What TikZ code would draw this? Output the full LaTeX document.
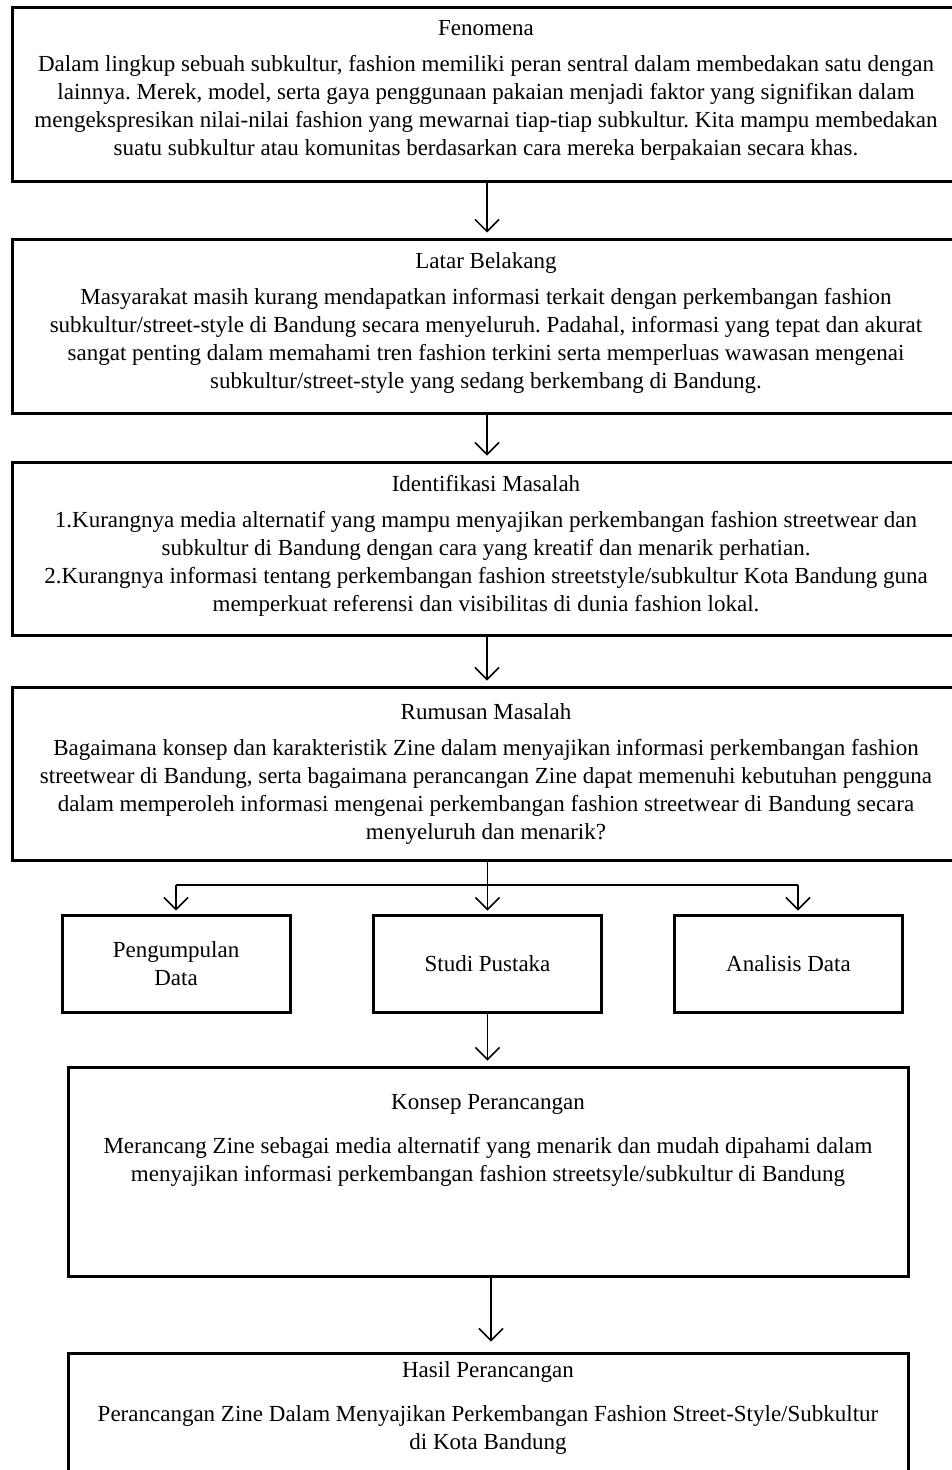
\documentclass[tikz,border=0pt]{standalone}
\usepackage{fontspec}
\setmainfont{Liberation Serif}
\usetikzlibrary{positioning, arrows.meta}
\frenchspacing

\tikzset{
  kotak/.style={draw, line width=3pt, minimum width=948pt, minimum height=174pt, inner sep=0pt},
  kotakbawah/.style={draw, line width=3pt, minimum width=840pt, inner sep=0pt},
  kecil/.style={draw, line width=3pt, minimum width=228pt, minimum height=97pt, align=center, inner sep=0pt},
  isi/.style={align=center, inner sep=0pt},
  garis/.style={line width=1.5pt},
  panah/.style={garis, -{Straight Barb[length=12pt, width=24pt, line width=1.5pt]}, shorten >=5pt}
}

\begin{document}
\begin{tikzpicture}[x=1pt, y=-1pt, font=\fontsize{23}{28}\selectfont]
    \useasboundingbox (0,0) rectangle (951,1470);
    % kotak utama
    \node[kotak] at (486,94)
      (fen) {};
    \node[isi, below=15pt of fen.north]
      (fenIsi) {Fenomena\\[8pt]
      Dalam lingkup sebuah subkultur, fashion memiliki peran sentral dalam membedakan satu dengan\\
      lainnya. Merek, model, serta gaya penggunaan pakaian menjadi faktor yang signifikan dalam\\
      mengekspresikan nilai-nilai fashion yang mewarnai tiap-tiap subkultur. Kita mampu membedakan\\
      suatu subkultur atau komunitas berdasarkan cara mereka berpakaian secara khas.};
    \node[kotak] at (486,326)
      (latar) {};
    \node[isi, below=15pt of latar.north]
      (latarIsi) {Latar Belakang\\[8pt]
      Masyarakat masih kurang mendapatkan informasi terkait dengan perkembangan fashion\\
      subkultur/street-style di Bandung secara menyeluruh. Padahal, informasi yang tepat dan akurat\\
      sangat penting dalam memahami tren fashion terkini serta memperluas wawasan mengenai\\
      subkultur/street-style yang sedang berkembang di Bandung.};
    \node[kotak, minimum height=173pt] at (486,548.5)
      (ident) {};
    \node[isi, below=15pt of ident.north]
      (identIsi) {Identifikasi Masalah\\[8pt]
      1.Kurangnya media alternatif yang mampu menyajikan perkembangan fashion streetwear dan\\
      subkultur di Bandung dengan cara yang kreatif dan menarik perhatian.\\
      2.Kurangnya informasi tentang perkembangan fashion streetstyle/subkultur Kota Bandung guna\\
      memperkuat referensi dan visibilitas di dunia fashion lokal.};
    \node[kotak, minimum height=173pt] at (486,773.5)
      (rumus) {};
    \node[isi, below=18pt of rumus.north]
      (rumusIsi) {Rumusan Masalah\\[8pt]
      Bagaimana konsep dan karakteristik Zine dalam menyajikan informasi perkembangan fashion\\
      streetwear di Bandung, serta bagaimana perancangan Zine dapat memenuhi kebutuhan pengguna\\
      dalam memperoleh informasi mengenai perkembangan fashion streetwear di Bandung secara\\
      menyeluruh dan menarik?};
    % tiga metode
    \node[kecil] at (176,963.5)
      (kumpul) {Pengumpulan\\Data};
    \node[kecil] at (487.5,963.5)
      (studi) {Studi Pustaka};
    \node[kecil] at (788.5,963.5)
      (analisis) {Analisis Data};
    % konsep dan hasil
    \node[kotakbawah, minimum height=209pt] at (488,1171.5)
      (konsep) {};
    \node[isi, below=29pt of konsep.north]
      (konsepIsi) {Konsep Perancangan\\[16pt]
      Merancang Zine sebagai media alternatif yang menarik dan mudah dipahami dalam\\
      menyajikan informasi perkembangan fashion streetsyle/subkultur di Bandung};
    \node[kotakbawah, minimum height=160pt] at (488,1433)
      (hasil) {};
    \node[isi, below=10pt of hasil.north]
      (hasilIsi) {Hasil Perancangan\\[16pt]
      Perancangan Zine Dalam Menyajikan Perkembangan Fashion Street-Style/Subkultur\\
      di Kota Bandung};
    % panah
    \draw[panah] (fen.south -| 487,0) -- (latar.north -| 487,0);
    \draw[panah] (latar.south -| 487,0) -- (ident.north -| 487,0);
    \draw[panah] (ident.south -| 487,0) -- (rumus.north -| 487,0);
    \coordinate (cabangKiri) at (176,885);
    \coordinate (cabangKanan) at (798,885);
    \draw[panah, shorten >=3pt] (rumus.south -| studi.north) -- (studi.north);
    \draw[garis] (cabangKiri) -- (cabangKanan);
    \draw[panah, shorten >=3pt] (cabangKiri) -- (kumpul.north);
    \draw[panah, shorten >=3pt] (cabangKanan) -- (cabangKanan |- analisis.north);
    \draw[panah] (studi.south) -- (studi.south |- konsep.north);
    \draw[panah, shorten >=10pt] (konsep.south -| 491,0) -- (hasil.north -| 491,0);
\end{tikzpicture}
\end{document}
